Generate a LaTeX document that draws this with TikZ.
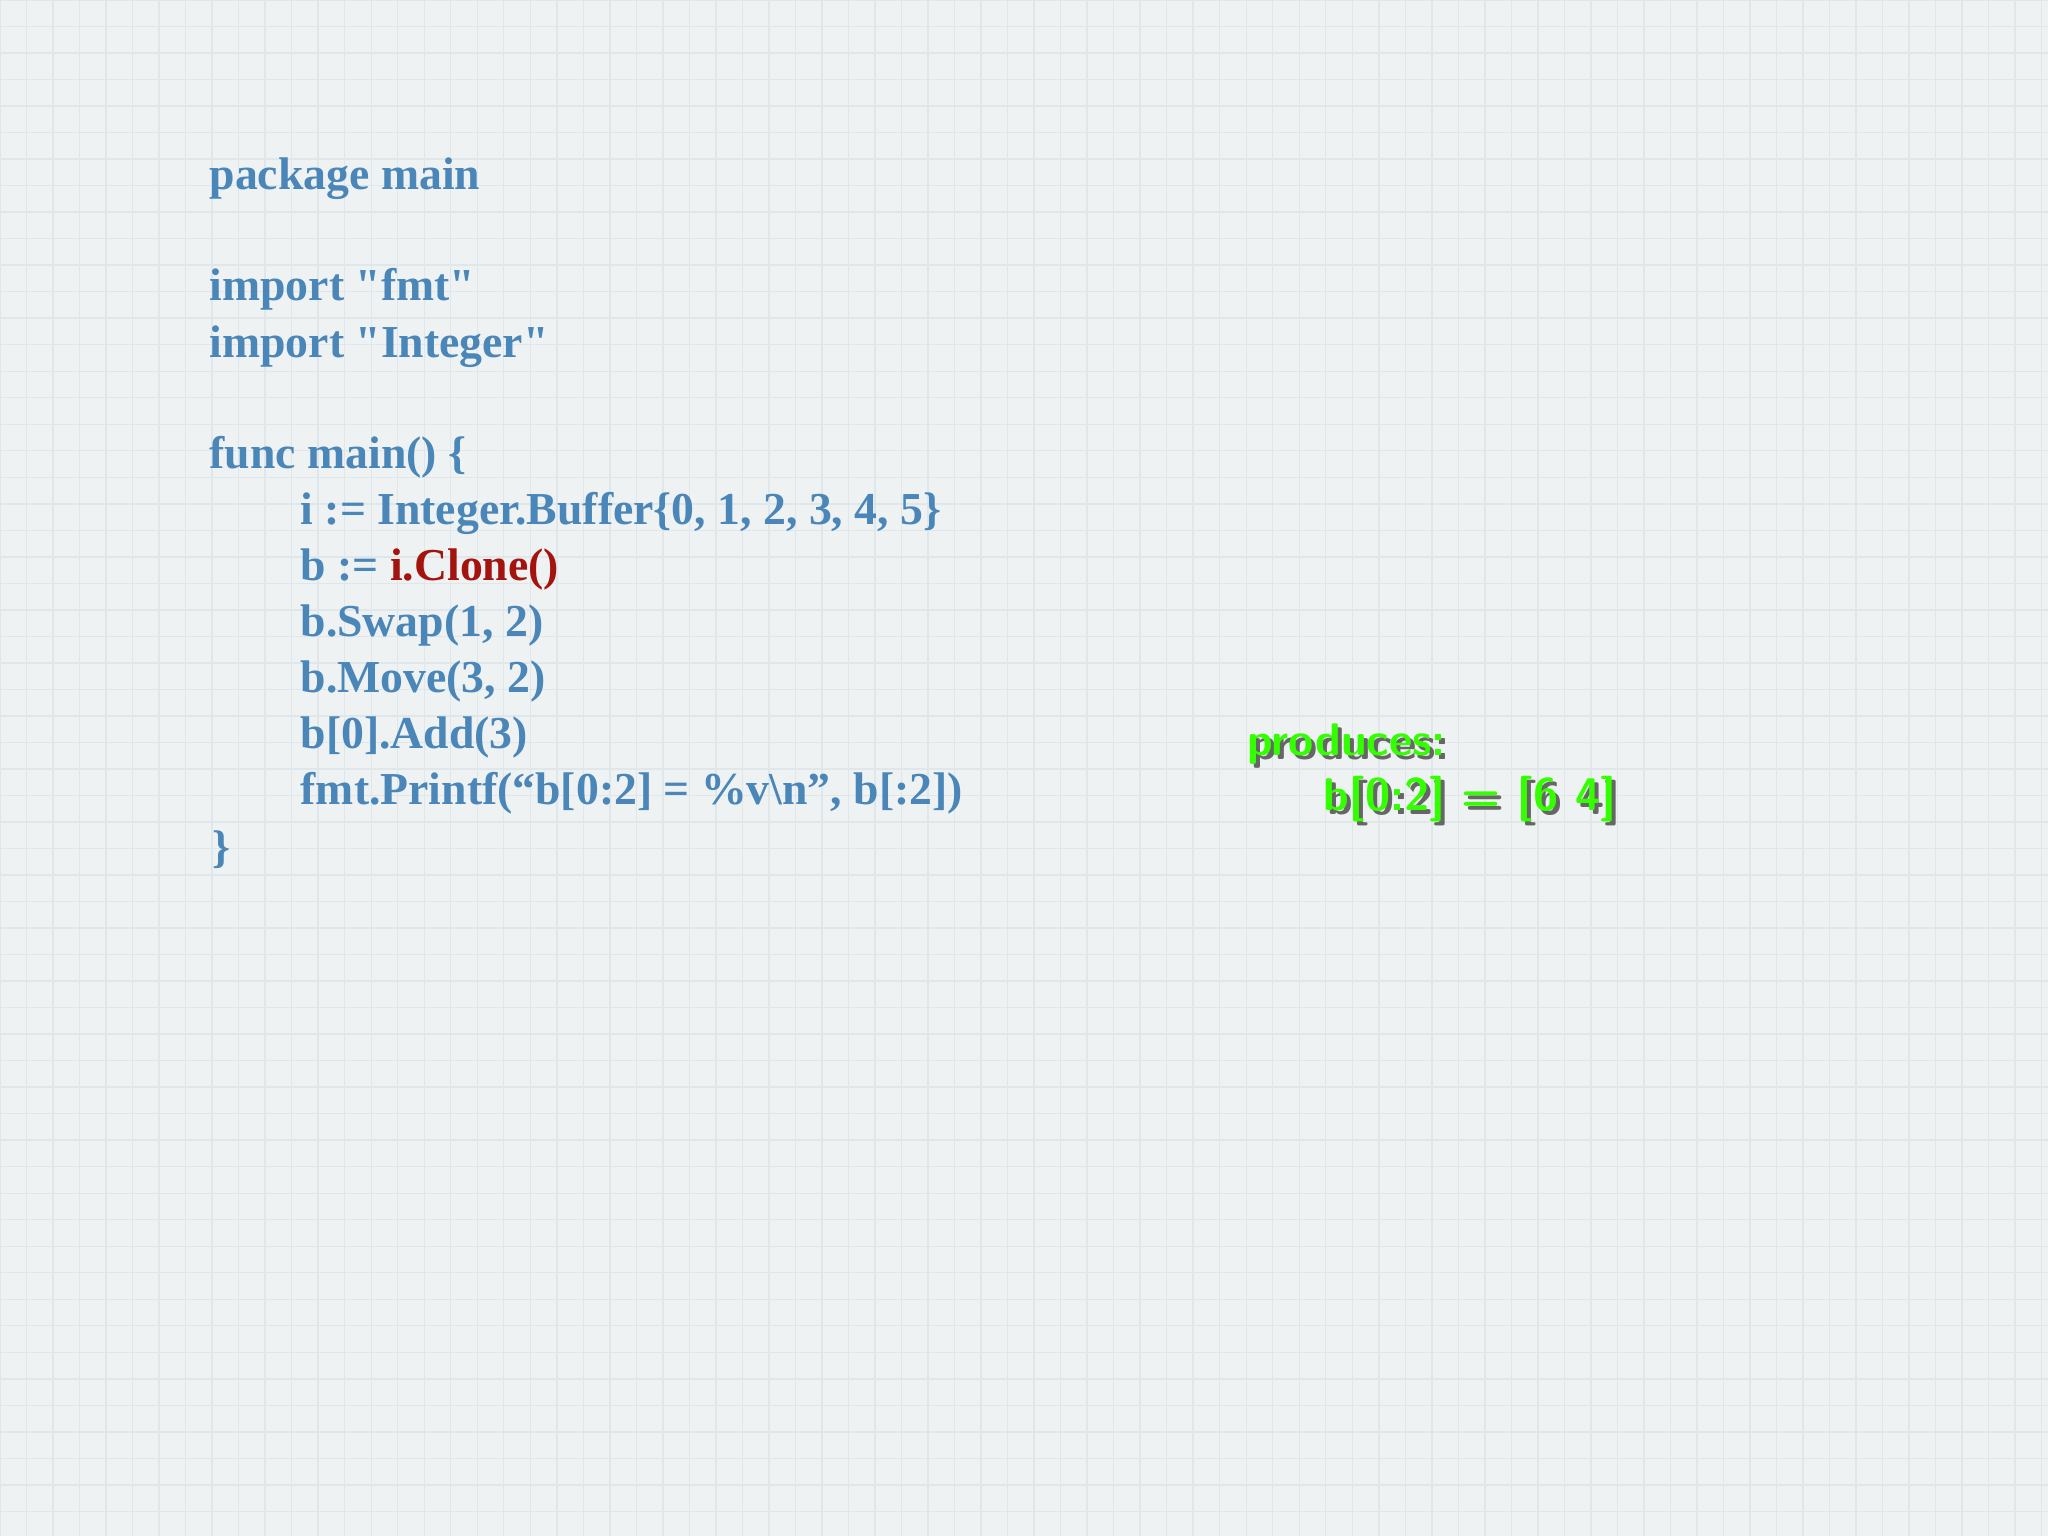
\documentclass[tikz,border=0pt]{standalone}
\usepackage{fontspec}
\setmainfont{Liberation Serif}
\definecolor{bg}{HTML}{EFF2F2}
\definecolor{gridc}{HTML}{E0E7EA}
\definecolor{codeblue}{HTML}{4A86B8}
\definecolor{codered}{HTML}{A3140F}
\definecolor{grn}{HTML}{33FF00}
\tikzset{
 code/.style={anchor=base west,inner sep=0pt,text=codeblue,font=\fontsize{13}{15}\selectfont\bfseries},
 outp/.style={anchor=base west,inner sep=0pt,text=grn,font=\fontsize{13}{15}\selectfont\sffamily\bfseries}
}
\begin{document}
\begin{tikzpicture}[x=0.01cm,y=-0.01cm]
\fill[bg] (0,0) rectangle (2048,1536);
\useasboundingbox (0,0) rectangle (2048,1536);
\draw[gridc,line width=0.4pt,step=0.265cm] (0,0) grid (2048,1536);
\node[code] (l1) at (209,189) {package main};
\node[code] (l2) at (209,300) {import \textquotedbl fmt\textquotedbl};
\node[code] (l3) at (209,357) {import \textquotedbl Integer\textquotedbl};
\node[code] (l4) at (209,468) {func main() \{};
\node[code] (l5) at (300,524) {i := Integer.Buffer\{0, 1, 2, 3, 4, 5\}};
\node[code] (l6) at (300,580) {b := \textcolor{codered}{i.Clone()}};
\node[code] (l7) at (300,636) {b.Swap(1, 2)};
\node[code] (l8) at (300,692) {b.Move(3, 2)};
\node[code] (l9) at (300,748) {b[0].Add(3)};
\node[code] (l10) at (300,804) {fmt.Printf(“b[0:2] = \%v\textbackslash n”, b[:2])};
\node[code] (l11) at (212,862) {\}};
\node[outp,text=black!60] at (1251,759) {produces:};
\node[outp] (o1) at (1247,755) {produces:};
\node[outp,text=black!60] at (1327,814) {b[0:2] = [6 4]};
\node[outp] (o2) at (1323,810) {b[0:2] = [6 4]};
\end{tikzpicture}
\end{document}
